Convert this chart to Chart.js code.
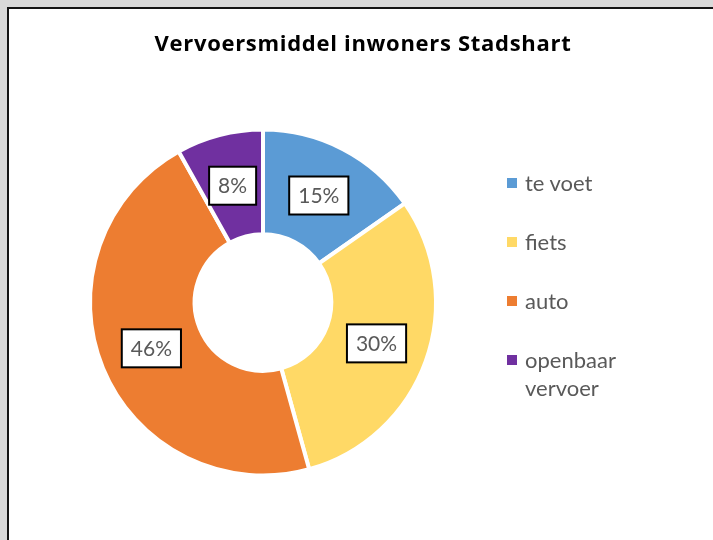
<!DOCTYPE html>
<html lang="nl">
<head>
    <meta charset="UTF-8">
    <title>Vervoersmiddel inwoners Stadshart</title>
    <script src="https://cdn.jsdelivr.net/npm/chart.js"></script>
    <style>
        body {
            margin: 0;
            background-color: #d9d9d9;
            overflow: hidden;
            font-family: 'Lato', sans-serif;
        }
        .chart-box {
            position: absolute;
            left: 7px;
            top: 7px;
            width: 760px;
            height: 600px;
            border: 2px solid #141414;
            background: white;
        }
        #vervoerChart {
            position: absolute;
            left: 0;
            top: 0;
        }
        .chart-title {
            position: absolute;
            left: 0;
            top: 20px;
            width: 708px;
            text-align: center;
            font-family: 'Open Sans', sans-serif;
            font-weight: bold;
            font-size: 22px;
            letter-spacing: 0.7px;
            line-height: 27px;
            color: #000;
        }
        .legend {
            position: absolute;
            left: 498px;
            top: 160px;
            margin: 0;
            padding: 0;
            list-style: none;
        }
        .legend li {
            position: relative;
            padding-left: 18px;
            width: 110px;
            font-size: 22px;
            line-height: 28px;
            color: #595959;
            margin-bottom: 31px;
        }
        .legend li span {
            position: absolute;
            left: 0;
            top: 9px;
            width: 10px;
            height: 10px;
        }
    </style>
</head>
<body>
    <div class="chart-box">
        <canvas id="vervoerChart" width="708" height="531"></canvas>
        <div class="chart-title">Vervoersmiddel inwoners Stadshart</div>
        <ul class="legend" id="legend"></ul>
    </div>

    <script>
        const categories = ['te voet', 'fiets', 'auto', 'openbaar vervoer'];
        const percentages = [15.3, 30.4, 46.2, 8.1];
        const colors = ['#5B9BD5', '#FFD966', '#ED7D31', '#7030A0'];

        // legenda rechts (html, zodat "openbaar vervoer" kan afbreken)
        const legend = document.getElementById('legend');
        categories.forEach((name, i) => {
            const li = document.createElement('li');
            const box = document.createElement('span');
            box.style.background = colors[i];
            li.appendChild(box);
            li.appendChild(document.createTextNode(name));
            legend.appendChild(li);
        });

        // percentage labels in een wit kader op elk segment
        const labelBoxes = {
            id: 'labelBoxes',
            afterDatasetsDraw(chart) {
                const ctx = chart.ctx;
                const meta = chart.getDatasetMeta(0);
                const total = percentages.reduce((a, b) => a + b, 0);
                ctx.save();
                ctx.font = '21px Lato';
                ctx.textAlign = 'center';
                ctx.textBaseline = 'middle';
                meta.data.forEach((arc, i) => {
                    const p = arc.tooltipPosition();
                    const txt = Math.round(percentages[i] / total * 100) + '%';
                    const w = ctx.measureText(txt).width + 18;
                    const h = 38;
                    ctx.fillStyle = '#fff';
                    ctx.fillRect(p.x - w / 2, p.y - h / 2, w, h);
                    ctx.lineWidth = 2;
                    ctx.strokeStyle = '#000';
                    ctx.strokeRect(p.x - w / 2, p.y - h / 2, w, h);
                    ctx.fillStyle = '#595959';
                    ctx.fillText(txt, p.x, p.y + 1);
                });
                ctx.restore();
            }
        };

        const vervoerChart = new Chart(document.getElementById('vervoerChart'), {
            type: 'doughnut',
            data: {
                labels: categories,
                datasets: [{
                    label: 'Vervoersmiddel',
                    data: percentages,
                    backgroundColor: colors,
                    borderColor: '#fff',
                    borderWidth: 4
                }]
            },
            options: {
                responsive: false,
                animation: false,
                cutout: '39.5%',
                layout: {
                    padding: { top: 118.5, bottom: 62.5, left: 79, right: 279 }
                },
                plugins: {
                    legend: { display: false },
                    tooltip: { enabled: false }
                }
            },
            plugins: [labelBoxes]
        });
    </script>
</body>
</html>
